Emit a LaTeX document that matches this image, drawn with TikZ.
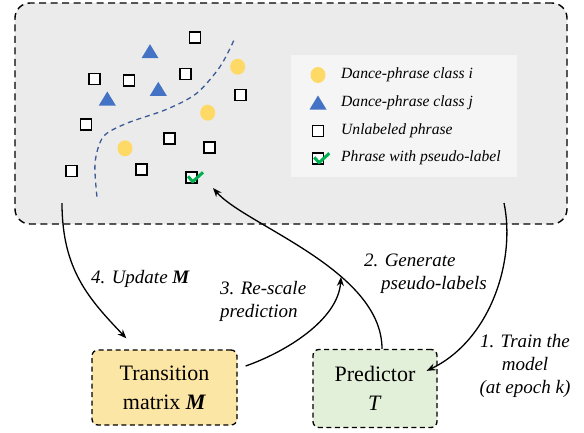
\documentclass[tikz,border=0pt]{standalone}
\usepackage{fontspec}
\setmainfont{Liberation Serif}
\usepackage{tikz}
\usetikzlibrary{arrows.meta,positioning,calc}

\definecolor{panelgray}{HTML}{EBEBEB}
\definecolor{legendgray}{HTML}{F5F5F5}
\definecolor{matrixfill}{HTML}{FCE6A6}
\definecolor{predfill}{HTML}{E2EFD9}
\definecolor{classblue}{HTML}{4472C4}
\definecolor{classyellow}{HTML}{FFD966}
\definecolor{bordercurve}{HTML}{3C5A96}
\definecolor{tickgreen}{HTML}{00B050}

\begin{document}
\begin{tikzpicture}[x=1pt,y=-1pt,
    phrase/.style={draw, fill=white, line width=1.5pt, minimum size=11pt, inner sep=0pt},
    tick/.style={draw=tickgreen, line width=3pt, line join=round},
    stagebox/.style={draw, dash pattern=on 5pt off 3.5pt, line width=1.3pt, rounded corners=6pt,
        align=center, font=\fontsize{22}{29}\selectfont},
    flow/.style={-{Stealth[length=9pt,width=7pt]}, line width=1.3pt},
    lbl/.style={font=\fontsize{19}{23}\selectfont\itshape, inner sep=0pt},
    legtext/.style={anchor=west, inner sep=0pt, font=\fontsize{15.6}{18}\selectfont\itshape}]

    \useasboundingbox (0,0) rectangle (584,432);

    % data panel
    \node[draw, fill=panelgray, dash pattern=on 7pt off 4.5pt, line width=1.4pt, rounded corners=15pt,
        minimum width=552pt, minimum height=221pt] (panel) at (291,113.5) {};
    \node[fill=legendgray, minimum width=226pt, minimum height=122pt] (legend) at (404,116) {};

    % class boundary
    \draw[bordercurve, dash pattern=on 5pt off 4pt, line width=1.3pt]
        plot[smooth] coordinates {(233.7,40.7) (220,66.7) (196.7,93.3) (166.7,109.3)
            (126.7,123.3) (103.3,136.7) (95,163.3) (97.3,200)};

    % phrases
    \foreach \x/\y in {195/37.3, 94.3/79, 129/80.3, 185.3/74, 240.3/95, 86/124.7,
        169.7/138.3, 209.3/147.3, 71.7/171, 141.7/169.7}
        \node[phrase] at (\x,\y) {};
    \foreach \x/\y in {150/51.7, 158.3/89.3, 107.3/99}
        \fill[classblue] (\x-8.5,\y+6.5) -- (\x+8.5,\y+6.5) -- (\x,\y-7.5) -- cycle;
    \foreach \x/\y in {237.7/66.7, 207.7/112.7, 125/148.3}
        \fill[classyellow] (\x,\y) ellipse (7.5 and 8);
    \node[phrase] (pseudo) at (191.7,177.3) {};
    \draw[tick, shift={(pseudo.center)}] (-3.7,-1) -- (1,4.4) -- (11.3,-5);

    % legend
    \fill[classyellow] (318,75) ellipse (7.5 and 8);
    \node[legtext] (legi) at (341,75) {Dance-phrase class i};
    \fill[classblue] (309.5,109.5) -- (326.5,109.5) -- (318,95.5) -- cycle;
    \node[legtext] (legj) at (341,103) {Dance-phrase class j};
    \node[phrase] (legu) at (318,131) {};
    \node[legtext] (legunl) at (341,131) {Unlabeled phrase};
    \node[phrase] (legp) at (318,158.3) {};
    \draw[tick, shift={(legp.center)}] (-3.7,-1) -- (1,4.4) -- (11.3,-5);
    \node[legtext] (legpl) at (341,158) {Phrase with pseudo-label};

    % stages
    \node[stagebox, fill=matrixfill, minimum width=145pt, minimum height=75pt] (transition)
        at (164.5,387.5) {Transition\\matrix \textbf{\textit{M}}};
    \node[stagebox, fill=predfill, minimum width=124pt, minimum height=78pt] (predictor)
        at (375,388.5) {Predictor\\\textit{T}};

    \coordinate (trainfrom) at (504,203);
    \coordinate (gento) at (213,188);
    \coordinate (rescaleto) at (341,277);
    \coordinate (updfrom) at (62,203);

    \draw[flow] (trainfrom) .. controls +(12,57) and +(64,-31) .. ($(predictor.north east)+(-11,22)$);
    \draw[flow] ($(predictor.north)+(7,0)$) .. controls +(0,-79) and +(32,37) .. (gento);
    \draw[flow] ($(transition.east)+(8,-21.5)$) .. controls +(40,-14) and +(-3,43) .. (rescaleto);
    \draw[flow] (updfrom) .. controls +(0,67) and +(-37,-39) .. ($(transition.north west)+(35,-11)$);

    \node[lbl, align=center] (trainlbl) at (525,366) {1. Train the\\model\\(at epoch k)};
    \node[lbl, align=left, anchor=west] (genlbl) at (364,273.5) {2. Generate\\\hspace*{17pt}pseudo-labels};
    \node[lbl, align=left, anchor=west] (rescalelbl) at (220,301) {3. Re-scale\\prediction};
    \node[lbl, anchor=west] (updlbl) at (91,279) {4. Update \textbf{M}};
\end{tikzpicture}
\end{document}
